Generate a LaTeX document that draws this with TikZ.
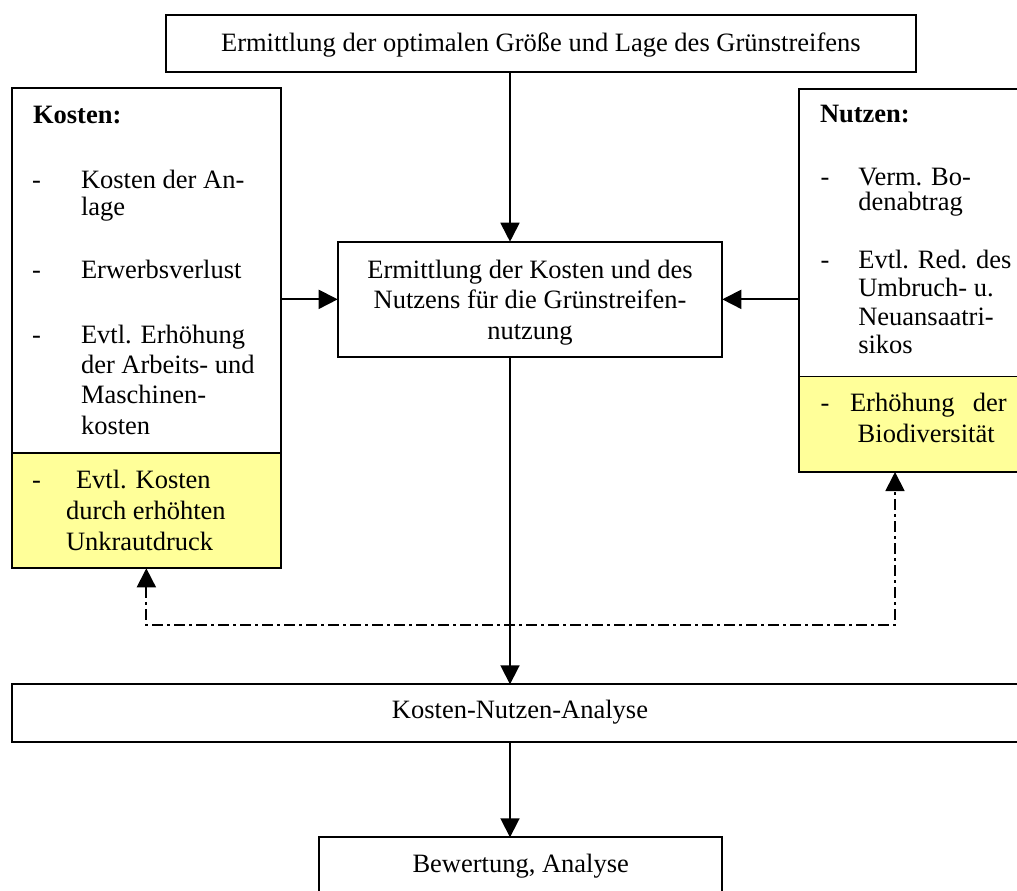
\documentclass[tikz,border=0pt]{standalone}
\usepackage{fontspec}
\setmainfont{Liberation Serif}
\usetikzlibrary{arrows.meta}
\definecolor{notegelb}{HTML}{FFFF99}
% stacked lines with a fixed baseline distance; the baseline of the block is its first line
\newcommand{\linesL}[2][29.5pt]{\vtop{\baselineskip=#1\lineskiplimit=-100pt\lineskip=0pt\halign{##\hfil\cr#2\crcr}}}
\newcommand{\linesC}[2][30.5pt]{\vtop{\baselineskip=#1\lineskiplimit=-100pt\lineskip=0pt\halign{\hfil##\hfil\cr#2\crcr}}}
\tikzset{
  frame/.style={draw, line width=1.8pt, inner sep=0pt, outer sep=0pt},
  ltext/.style={inner sep=0pt, outer sep=0pt, anchor=base west},
  arr/.style={line width=1.8pt, -{Triangle[length=19pt,width=19pt]}},
  dd/.style={line width=1.8pt, dash pattern=on 11pt off 4pt on 3pt off 4pt,
    {Triangle[length=19pt,width=19pt]}-{Triangle[length=19pt,width=19pt]}}
}
\begin{document}
\begin{tikzpicture}[x=1pt, y=-1pt, font=\fontsize{26.5}{30}\selectfont]
\useasboundingbox (0,0) rectangle (1017,891);
\fill[white] (0,0) rectangle (1017,891);
\clip (0,0) rectangle (1017,891);

% boxes
\node[frame, minimum width=750.3pt, text height=37pt, text depth=19.7pt, anchor=north]
  (top) at (540.85,15) {Ermittlung der optimalen Größe und Lage des Grünstreifens};
\node[frame, minimum width=384.6pt, text height=36.6pt, text depth=78.7pt, anchor=north]
  (mid) at (530,241.7) {\linesC{Ermittlung der Kosten und des\cr Nutzens für die Grünstreifen-\cr nutzung}};
\node[frame, minimum width=269.3pt, minimum height=365pt, anchor=north west] (kost) at (11.7,88.3) {};
\node[frame, fill=notegelb, minimum width=269.3pt, minimum height=115pt, anchor=north west] (kostY) at (11.7,453.3) {};
\node[frame, minimum width=240pt, minimum height=287.5pt, anchor=north west] (nutz) at (799,89) {};
\node[frame, fill=notegelb, minimum width=240pt, minimum height=95.5pt, anchor=north west] (nutzY) at (799,376.5) {};
\node[frame, minimum width=1016.6pt, text height=34pt, text depth=23.4pt, anchor=north]
  (kna) at (520,684.3) {Kosten-Nutzen-Analyse};
\node[frame, minimum width=403.3pt, text height=35.4pt, text depth=40pt, anchor=north]
  (bew) at (520.7,837.3) {Bewertung, Analyse};

% connectors
\coordinate (axis) at (510,0);
\coordinate (dr) at (895,625);
\draw[arr] (axis |- top.south) -- (axis |- mid.north);
\draw[arr] (kost.east |- mid.west) -- (mid.west);
\draw[arr] (nutz.west |- mid.east) -- (mid.east);
\draw[arr] (axis |- mid.south) -- (axis |- kna.north);
\draw[arr] (axis |- kna.south) -- (axis |- bew.north);
\draw[dd] (kostY.south) |- (dr) -- (dr |- nutzY.south);

% Kosten
\node[ltext] (kh) at (33,123) {\bfseries Kosten:};
\node[ltext] (kd1) at (32,188) {-};
\node[ltext] (k1) at (81,188) {\linesL[27pt]{Kosten der An-\cr lage}};
\node[ltext] (kd2) at (32,278) {-};
\node[ltext] (k2) at (81,278) {Erwerbsverlust};
\node[ltext] (kd3) at (32,343.3) {-};
\node[ltext] (k3) at (81,343.3) {\linesL[30.3pt]{Evtl. Erhöhung\cr der Arbeits- und\cr Maschinen-\cr kosten}};
\node[ltext] (kd4) at (32,488) {-};
\node[ltext] (k4) at (66,488) {\linesL[31pt]{\hspace{10pt}Evtl. Kosten\cr durch erhöhten\cr Unkrautdruck}};

% Nutzen
\node[ltext] (nh) at (820,122.3) {\bfseries Nutzen:};
\node[ltext] (nd1) at (820.5,185) {-};
\node[ltext] (n1) at (858.3,185) {\linesL[25pt]{Verm. Bo-\cr denabtrag}};
\node[ltext] (nd2) at (820.5,268.3) {-};
\node[ltext] (n2) at (858.3,268.3) {\linesL[28.5pt]{Evtl. Red. des\cr Umbruch- u.\cr Neuansaatri-\cr sikos}};
\node[ltext] (nd3) at (820.5,411.7) {-};
\node[ltext] (n3) at (850,411.7) {\linesL[31pt]{\hbox to 156.7pt{Erhöhung\hfill der}\cr\hspace{7.7pt}Biodiversität}};
\end{tikzpicture}
\end{document}
